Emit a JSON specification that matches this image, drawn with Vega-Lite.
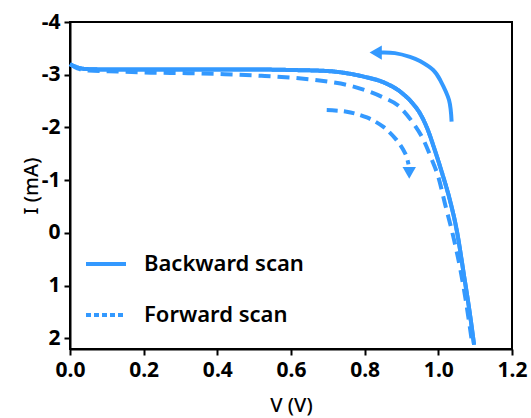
{
  "$schema": "https://vega.github.io/schema/vega-lite/v6.json",
  "width": 442,
  "height": 327,
  "autosize": {"type": "none"},
  "padding": {"left": 70, "top": 22, "right": 19, "bottom": 69},
  "background": "white",
  "config": {
    "view": {"stroke": "black", "strokeWidth": 2},
    "font": "Noto Sans",
    "axis": {
      "domainColor": "black", "domainWidth": 2, "tickColor": "black", "tickWidth": 2, "grid": false,
      "labelFont": "Noto Sans", "labelFontSize": 21, "labelFontWeight": "bold", "labelColor": "black",
      "titleFont": "Noto Sans", "titleFontSize": 20, "titleFontWeight": 500, "titleColor": "black"
    }
  },
  "datasets": {
    "curves": [
      {"scan": "Backward scan", "V": 0, "I": -3.2},
      {"scan": "Backward scan", "V": 0.02, "I": -3.14},
      {"scan": "Backward scan", "V": 0.04, "I": -3.11},
      {"scan": "Backward scan", "V": 0.1, "I": -3.1},
      {"scan": "Backward scan", "V": 0.2, "I": -3.1},
      {"scan": "Backward scan", "V": 0.3, "I": -3.1},
      {"scan": "Backward scan", "V": 0.4, "I": -3.1},
      {"scan": "Backward scan", "V": 0.5, "I": -3.1},
      {"scan": "Backward scan", "V": 0.6, "I": -3.09},
      {"scan": "Backward scan", "V": 0.7, "I": -3.07},
      {"scan": "Backward scan", "V": 0.75, "I": -3.03},
      {"scan": "Backward scan", "V": 0.8, "I": -2.96},
      {"scan": "Backward scan", "V": 0.85, "I": -2.86},
      {"scan": "Backward scan", "V": 0.9, "I": -2.66},
      {"scan": "Backward scan", "V": 0.93, "I": -2.46},
      {"scan": "Backward scan", "V": 0.95, "I": -2.27},
      {"scan": "Backward scan", "V": 0.97, "I": -1.98},
      {"scan": "Backward scan", "V": 0.99, "I": -1.58},
      {"scan": "Backward scan", "V": 1.01, "I": -1.14},
      {"scan": "Backward scan", "V": 1.03, "I": -0.66},
      {"scan": "Backward scan", "V": 1.05, "I": -0.05},
      {"scan": "Backward scan", "V": 1.07, "I": 0.82},
      {"scan": "Backward scan", "V": 1.085, "I": 1.5},
      {"scan": "Backward scan", "V": 1.097, "I": 2.12},
      {"scan": "Forward scan", "V": 0, "I": -3.2},
      {"scan": "Forward scan", "V": 0.02, "I": -3.12},
      {"scan": "Forward scan", "V": 0.05, "I": -3.08},
      {"scan": "Forward scan", "V": 0.13, "I": -3.06},
      {"scan": "Forward scan", "V": 0.22, "I": -3.04},
      {"scan": "Forward scan", "V": 0.32, "I": -3.03},
      {"scan": "Forward scan", "V": 0.42, "I": -3.01},
      {"scan": "Forward scan", "V": 0.52, "I": -2.98},
      {"scan": "Forward scan", "V": 0.61, "I": -2.94},
      {"scan": "Forward scan", "V": 0.7, "I": -2.87},
      {"scan": "Forward scan", "V": 0.75, "I": -2.81},
      {"scan": "Forward scan", "V": 0.8, "I": -2.71},
      {"scan": "Forward scan", "V": 0.85, "I": -2.57},
      {"scan": "Forward scan", "V": 0.89, "I": -2.42},
      {"scan": "Forward scan", "V": 0.93, "I": -2.1},
      {"scan": "Forward scan", "V": 0.96, "I": -1.76},
      {"scan": "Forward scan", "V": 0.98, "I": -1.43},
      {"scan": "Forward scan", "V": 1.0, "I": -1.06},
      {"scan": "Forward scan", "V": 1.02, "I": -0.5},
      {"scan": "Forward scan", "V": 1.04, "I": 0.05},
      {"scan": "Forward scan", "V": 1.06, "I": 0.7},
      {"scan": "Forward scan", "V": 1.075, "I": 1.3},
      {"scan": "Forward scan", "V": 1.092, "I": 2.1}
    ],
    "arrowBack": [
      {"k": 1, "V": 1.036, "I": -2.11},
      {"k": 2, "V": 1.029, "I": -2.52},
      {"k": 3, "V": 1.005, "I": -2.9},
      {"k": 4, "V": 0.986, "I": -3.09},
      {"k": 5, "V": 0.95, "I": -3.26},
      {"k": 6, "V": 0.923, "I": -3.34},
      {"k": 7, "V": 0.882, "I": -3.41},
      {"k": 8, "V": 0.842, "I": -3.42}
    ],
    "arrowFwd": [
      {"k": 1, "V": 0.697, "I": -2.33},
      {"k": 2, "V": 0.751, "I": -2.3},
      {"k": 3, "V": 0.806, "I": -2.19},
      {"k": 4, "V": 0.851, "I": -2.01},
      {"k": 5, "V": 0.887, "I": -1.76},
      {"k": 6, "V": 0.91, "I": -1.51},
      {"k": 7, "V": 0.919, "I": -1.3}
    ],
    "headBack": [{"V": 0.83, "I": -3.42}],
    "headFwd": [{"V": 0.921, "I": -1.14}]
  },
  "layer": [
    {
      "data": {"name": "curves"},
      "mark": {"type": "line", "interpolate": "monotone", "strokeWidth": 4, "color": "#3399ff"},
      "encoding": {
        "x": {
          "field": "V", "type": "quantitative",
          "scale": {"domain": [0, 1.2], "nice": false, "zero": false},
          "axis": {
            "values": [0, 0.1, 0.2, 0.3, 0.4, 0.5, 0.6, 0.7, 0.8, 0.9, 1.0, 1.1, 1.2],
            "labelExpr": "abs(round(datum.value*10)) % 2 === 0 ? format(datum.value, '.1f') : ''",
            "tickSize": {"condition": {"test": "abs(round(datum.value*10)) % 2 === 0", "value": 6}, "value": 3},
            "labelPadding": 4, "title": "V (V)", "titlePadding": 15, "labelFlush": false, "labelOverlap": false
          }
        },
        "y": {
          "field": "I", "type": "quantitative",
          "scale": {"domain": [-4, 2.2], "reverse": true, "nice": false, "zero": false},
          "axis": {
            "values": [-4, -3.5, -3, -2.5, -2, -1.5, -1, -0.5, 0, 0.5, 1, 1.5, 2],
            "labelExpr": "datum.value % 1 === 0 ? '' + datum.value : ''",
            "tickSize": {"condition": {"test": "datum.value % 1 === 0", "value": 6}, "value": 3},
            "labelPadding": 4, "title": "I (mA)", "titlePadding": 0, "labelFlush": false, "labelOverlap": false
          }
        },
        "strokeDash": {
          "field": "scan", "type": "nominal",
          "scale": {"domain": ["Backward scan", "Forward scan"], "range": [[1, 0], [12, 7]]},
          "legend": null
        }
      }
    },
    {
      "data": {"name": "curves"},
      "transform": [{"filter": "datum.scan === 'Backward scan'"}],
      "mark": {"type": "line", "interpolate": "monotone", "strokeWidth": 4, "color": "#3399ff"},
      "encoding": {
        "x": {"field": "V", "type": "quantitative"},
        "y": {"field": "I", "type": "quantitative"},
        "strokeDash": {
          "field": "scan", "type": "nominal",
          "scale": {"domain": ["Backward scan", "Forward scan"], "range": [[1, 0], [5, 3]]},
          "legend": {
            "orient": "none", "legendX": 14, "legendY": 220, "title": null,
            "symbolType": "stroke", "symbolSize": 1600, "symbolStrokeWidth": 4, "symbolStrokeColor": "#3399ff",
            "labelFont": "Noto Sans", "labelFontSize": 22, "labelFontWeight": 600, "labelColor": "black",
            "labelOffset": 16, "rowPadding": 18, "padding": 0
          }
        }
      }
    },
    {
      "data": {"name": "arrowBack"},
      "mark": {"type": "line", "interpolate": "cardinal", "strokeWidth": 4, "color": "#3399ff"},
      "encoding": {
        "x": {"field": "V", "type": "quantitative"},
        "y": {"field": "I", "type": "quantitative"},
        "order": {"field": "k", "type": "quantitative"}
      }
    },
    {
      "data": {"name": "arrowFwd"},
      "mark": {"type": "line", "interpolate": "cardinal", "strokeWidth": 4, "color": "#3399ff", "strokeDash": [11, 6]},
      "encoding": {
        "x": {"field": "V", "type": "quantitative"},
        "y": {"field": "I", "type": "quantitative"},
        "order": {"field": "k", "type": "quantitative"}
      }
    },
    {
      "data": {"name": "headBack"},
      "mark": {"type": "point", "shape": "triangle-left", "filled": true, "opacity": 1, "size": 200, "color": "#3399ff"},
      "encoding": {
        "x": {"field": "V", "type": "quantitative"},
        "y": {"field": "I", "type": "quantitative"}
      }
    },
    {
      "data": {"name": "headFwd"},
      "mark": {"type": "point", "shape": "triangle-down", "filled": true, "opacity": 1, "size": 180, "color": "#3399ff"},
      "encoding": {
        "x": {"field": "V", "type": "quantitative"},
        "y": {"field": "I", "type": "quantitative"}
      }
    }
  ],
  "resolve": {"scale": {"strokeDash": "independent"}}
}
